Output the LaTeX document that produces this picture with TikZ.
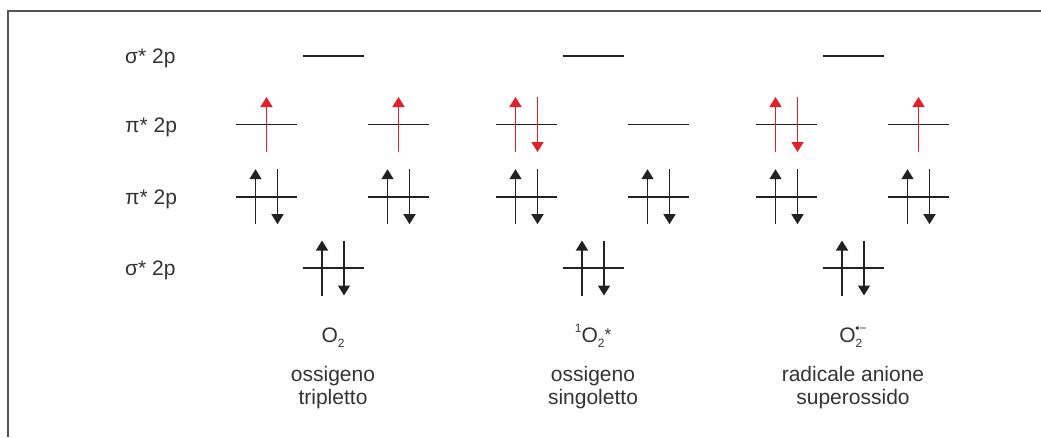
\documentclass[tikz,border=0pt]{standalone}
\usepackage{fontspec}
\setmainfont{Liberation Sans}
\usetikzlibrary{arrows.meta,calc}
\definecolor{txt}{HTML}{333333}
\definecolor{ered}{HTML}{E3202A}
\definecolor{lvl}{HTML}{222222}
\definecolor{frm}{HTML}{555555}
\newcommand{\mysub}[1]{\raisebox{-0.25em}{\fontsize{12}{12}\selectfont #1}}
\newcommand{\mysup}[1]{\raisebox{0.45em}{\fontsize{12}{12}\selectfont #1}}
\newcommand{\mystar}{\raisebox{0.05em}{\fontsize{17}{17}\selectfont *}}
\begin{document}
\begin{tikzpicture}[x=1pt,y=-1pt,
  level/.style={inner sep=0pt, minimum width=61pt, minimum height=0pt, outer sep=0pt},
  lvlline/.style={draw=lvl, line width=1.6pt},
  spin/.style={line width=1.6pt, -{Triangle[width=12pt,length=10pt]}},
  blk/.style={spin, draw=lvl},
  rd/.style={spin, draw=ered},
  rowlab/.style={anchor=base west, font=\fontsize{21}{23}\selectfont, text=txt, inner sep=0pt},
  capt/.style={anchor=base, align=center, font=\fontsize{21}{22.5}\selectfont, text=txt, inner sep=0pt},
  frame/.style={draw=frm, line width=1.4pt}
]
\useasboundingbox (0,0) rectangle (1041,437);
\draw[frame] (8,437) -- (8,11) -- (1041,11);

% row labels
\node[rowlab] (l1) at (125,63.5) {σ* 2p};
\node[rowlab] (l2) at (125,132.5) {π* 2p};
\node[rowlab] (l3) at (125,204.5) {π* 2p};
\node[rowlab] (l4) at (125,275.5) {σ* 2p};

% levels
\foreach \c/\dx in {a/0,b/260,c/520}{
  \node[level] (\c s1) at (333+\dx,56) {};
  \node[level] (\c pL) at (266.5+\dx,124.5) {};
  \node[level] (\c pR) at (398.5+\dx,124.5) {};
  \node[level] (\c qL) at (266.5+\dx,196.7) {};
  \node[level] (\c qR) at (398.5+\dx,196.7) {};
  \node[level] (\c s2) at (333+\dx,268) {};
  \foreach \n in {s1,pL,pR,qL,qR,s2}{
    \draw[lvlline] (\c\n.west) -- (\c\n.east);
  }
  \foreach \n in {qL,qR,s2}{
    \draw[blk] ($(\c\n)+(-11,27.5)$) -- ($(\c\n)+(-11,-27.5)$);
    \draw[blk] ($(\c\n)+(11,-27.5)$) -- ($(\c\n)+(11,27.5)$);
  }
}

% red electrons
\draw[rd] ($(apL)+(0,27.5)$) -- ($(apL)+(0,-27.5)$);
\draw[rd] ($(apR)+(0,27.5)$) -- ($(apR)+(0,-27.5)$);
\draw[rd] ($(bpL)+(-11,27.5)$) -- ($(bpL)+(-11,-27.5)$);
\draw[rd] ($(bpL)+(11,-27.5)$) -- ($(bpL)+(11,27.5)$);
\draw[rd] ($(cpL)+(-11,27.5)$) -- ($(cpL)+(-11,-27.5)$);
\draw[rd] ($(cpL)+(11,-27.5)$) -- ($(cpL)+(11,27.5)$);
\draw[rd] ($(cpR)+(0,27.5)$) -- ($(cpR)+(0,-27.5)$);

% captions
\node[capt] (f1) at (333,342) {O\mysub{2}};
\node[capt] (f2) at (593,342) {\mysup{1}O\mysub{2}\mystar};
\node[capt] (f3) at (853,342) {O\mysub{2}\hspace{-0.33em}\mysup{•−}};
\node[capt] (n1) at (333,404.2) {ossigeno\\tripletto};
\node[capt] (n2) at (593,404.2) {ossigeno\\singoletto};
\node[capt] (n3) at (853,404.2) {radicale anione\\superossido};
\end{tikzpicture}
\end{document}
